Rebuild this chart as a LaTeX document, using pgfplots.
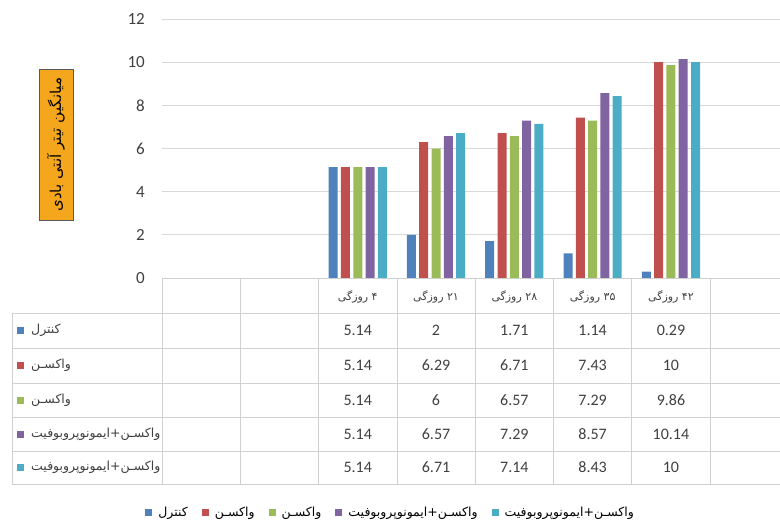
\documentclass[border=0pt]{standalone}
\usepackage{pgfplots}
\usepackage{pgfplotstable}
\pgfplotsset{compat=1.18}
\usepackage{fontspec}
\setmainfont{Carlito}
\newfontfamily\arabicfont[Script=Arabic]{DejaVu Sans}
\TeXXeTstate=1
\definecolor{cA}{HTML}{4F81BD}
\definecolor{cB}{HTML}{C0504D}
\definecolor{cC}{HTML}{9BBB59}
\definecolor{cD}{HTML}{8064A2}
\definecolor{cE}{HTML}{4BACC6}
\definecolor{gridc}{HTML}{D9D9D9}
\definecolor{tabc}{HTML}{D0D0D0}
\definecolor{txt}{HTML}{404040}
\definecolor{lab}{HTML}{F4A71D}
\newcommand{\fa}[1]{{\arabicfont\beginR #1\endR}}

\pgfplotstableread{
x A B C D E
2 5.14 5.14 5.14 5.14 5.14
3 2 6.29 6 6.57 6.71
4 1.71 6.71 6.57 7.29 7.14
5 1.14 7.43 7.29 8.57 8.43
6 0.29 10 9.86 10.14 10
}\data

\begin{document}
\begin{tikzpicture}[x=1pt,y=1pt]
\useasboundingbox (0,0) rectangle (780,-521);
\begin{axis}[
  at={(162pt,-278pt)}, anchor=south west,
  scale only axis, width=626.4pt, height=259pt,
  xmin=-0.5, xmax=7.5, ymin=0, ymax=12,
  ytick={0,2,...,12}, xtick=\empty,
  ymajorgrids, grid style={gridc, line width=0.8pt},
  axis line style={draw=none},
  major tick length=0pt,
  /pgf/number format/assume math mode=true,
  ybar=3.3pt, bar width=9pt,
  yticklabel style={font=\fontsize{17}{19}\selectfont, text=txt, anchor=east, inner sep=0pt, xshift=-17pt},
  legend columns=5,
  legend style={at={(0.365,-0.9035)}, anchor=center, draw=none, fill=none,
    font=\fontsize{12.5}{14}\selectfont,
    /tikz/every odd column/.append style={column sep=4pt},
    /tikz/every even column/.append style={column sep=12pt}},
  legend image code/.code={\fill[#1, draw=none] (0pt,-3.5pt) rectangle (7pt,3.5pt);},
]
\addplot[fill=cA, draw=none] table[x=x,y=A]{\data};
\addlegendentry{\fa{کنترل}}
\addplot[fill=cB, draw=none] table[x=x,y=B]{\data};
\addlegendentry{\fa{واکسـن}}
\addplot[fill=cC, draw=none] table[x=x,y=C]{\data};
\addlegendentry{\fa{واکسـن}}
\addplot[fill=cD, draw=none] table[x=x,y=D]{\data};
\addlegendentry{\fa{واکسـن+ایمونوپروبوفیت}}
\addplot[fill=cE, draw=none] table[x=x,y=E]{\data};
\addlegendentry{\fa{واکسـن+ایمونوپروبوفیت}}
\end{axis}
% data table grid
\begin{scope}[draw=tabc, line width=0.8pt]
\draw (162,-278) -- (790,-278);
\foreach \y in {313,348,383,417,451,484} \draw (12,-\y) -- (790,-\y);
\draw (12,-313) -- (12,-484);
\foreach \x in {162,240.3,318.6,396.9,475.2,553.5,631.8,710.1} \draw (\x,-278) -- (\x,-484);
\end{scope}
% header labels
\foreach \i/\t in {2/۴,3/۲۱,4/۲۸,5/۳۵,6/۴۲}
  \node[text=txt, font=\fontsize{11}{13}\selectfont] at ({162+(\i+0.5)*78.3},-297) {\fa{\t\ روزگی}};
% row labels with keys
\foreach \col/\yy/\t in {cA/330.5/کنترل, cB/365.5/واکسـن, cC/400/واکسـن, cD/434/واکسـن+ایمونوپروبوفیت, cE/467.5/واکسـن+ایمونوپروبوفیت} {
  \fill[\col] (17,-\yy+3) rectangle (24,-\yy-4);
  \node[anchor=west, text=txt, inner sep=0pt, font=\fontsize{12.5}{14}\selectfont] at (31,-\yy) {\fa{\t}};
}
% values
\foreach \c/\yy in {A/330.5, B/365.5, C/400, D/434, E/467.5} {
  \foreach \r in {0,...,4} {
    \pgfplotstablegetelem{\r}{\c}\of\data
    \node[text=txt, font=\fontsize{16}{18}\selectfont] at ({162+(\r+2.5)*78.3},-\yy) {\pgfplotsretval};
  }
}
% y label box
\node[rotate=90, fill=lab, draw=black!65, line width=0.8pt, minimum width=151pt, minimum height=34pt, inner sep=2pt, font=\fontsize{15}{17}\selectfont] at (56,-144.5) {\fa{میانگین تیتر آنتی بادی}};
\end{tikzpicture}
\end{document}
